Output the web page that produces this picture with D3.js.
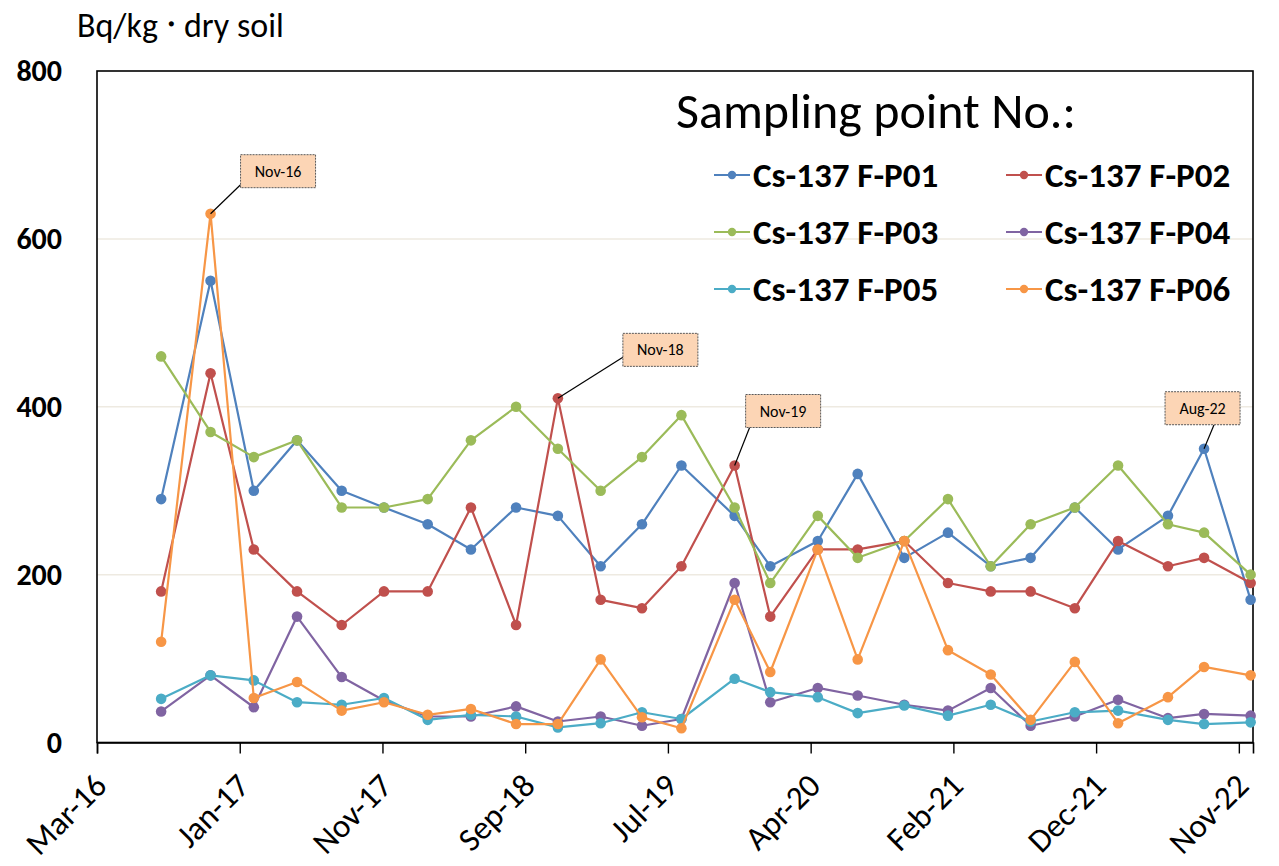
<!DOCTYPE html>
<html>
<head>
<meta charset="utf-8">
<script src="https://cdn.jsdelivr.net/npm/d3@7"></script>
<style>
  html, body { margin: 0; padding: 0; background: #ffffff; }
  svg { display: block; }
</style>
</head>
<body>
<svg id="chart" width="1279" height="866"></svg>
<script>
// ---------------- DATA ----------------
const sampleDates = ["2016-08-03","2016-11-15","2017-02-14","2017-05-16","2017-08-18","2017-11-15",
  "2018-02-15","2018-05-17","2018-08-20","2018-11-16","2019-02-14","2019-05-12","2019-08-03",
  "2019-11-23","2020-02-06","2020-05-16","2020-08-08","2020-11-14","2021-02-14","2021-05-15",
  "2021-08-07","2021-11-08","2022-02-07","2022-05-23","2022-08-07","2022-11-13"];

const seriesNames = ["Cs-137 F-P01","Cs-137 F-P02","Cs-137 F-P03","Cs-137 F-P04","Cs-137 F-P05","Cs-137 F-P06"];

const p01 = [290,550,300,360,300,280,260,230,280,270,210,260,330,270,210,240,320,220,250,210,220,280,230,270,350,170];
const p02 = [180,440,230,180,140,180,180,280,140,410,170,160,210,330,150,230,230,240,190,180,180,160,240,210,220,190];
const p03 = [460,370,340,360,280,280,290,360,400,350,300,340,390,280,190,270,220,240,290,210,260,280,330,260,250,200];
const p04 = [37,80,42,150,78,50,31,31,43,25,31,20,28,190,48,65,56,45,38,65,20,31,51,29,34,32];
const p05 = [52,80,74,48,45,53,27,33,31,18,23,36,28,76,60,54,35,44,32,45,25,36,38,27,22,24];
const p06 = [120,630,53,72,38,48,33,40,22,22,99,30,17,170,84,230,99,240,110,81,27,96,23,54,90,80];

const seriesColors = ["#4F81BD","#C0504D","#9BBB59","#8064A2","#4BACC6","#F79646"];

const xTickLabels = ["Mar-16","Jan-17","Nov-17","Sep-18","Jul-19","Apr-20","Feb-21","Dec-21","Nov-22"];
const yTickValues = [0,200,400,600,800];

const yTitleParts = ["Bq/kg", "・", "dry soil"];
const legendTitle = "Sampling point No.:";

// callouts: series index, point index, label
const calloutSeries = [5, 1, 1, 0];
const calloutPoint  = [1, 9, 13, 24];
const calloutLabels = ["Nov-16","Nov-18","Nov-19","Aug-22"];

// ---------------- LAYOUT ----------------
const svg = d3.select("#chart");
const W = 1279, H = 866;
const plot = { left: 97, right: 1253, top: 71, bottom: 742.5 };
const fontMain = "Calibri, Carlito, Lato, 'Noto Sans', sans-serif";

svg.append("rect").attr("width", W).attr("height", H).attr("fill", "#ffffff");

const parse = d3.timeParse("%Y-%m-%d");
const dates = sampleDates.map(parse);
const xStart = parse("2016-03-21"), xEnd = parse("2022-11-18");

const x = d3.scaleTime().domain([xStart, xEnd]).range([plot.left, plot.right]);
const y = d3.scaleLinear().domain([0, 800]).range([plot.bottom, plot.top]);

// gridlines
svg.append("g").selectAll("line")
  .data(yTickValues.filter(v => v > 0 && v < 800))
  .join("line")
  .attr("x1", plot.left).attr("x2", plot.right)
  .attr("y1", d => y(d)).attr("y2", d => y(d))
  .attr("stroke", "#EEEAE1").attr("stroke-width", 1.5);

// frame
svg.append("rect")
  .attr("x", plot.left).attr("y", plot.top)
  .attr("width", plot.right - plot.left).attr("height", plot.bottom - plot.top)
  .attr("fill", "none").attr("stroke", "#000").attr("stroke-width", 1.6);

// x axis
const tickStepDays = 300.4;
const xTickDates = xTickLabels.map((_, i) => d3.timeHour.offset(xStart, Math.round(i * tickStepDays * 24)));
const xAxis = d3.axisBottom(x)
  .tickValues(xTickDates)
  .tickFormat((d, i) => xTickLabels[i])
  .tickSize(11).tickPadding(6);
const gx = svg.append("g").attr("transform", `translate(0,${plot.bottom})`).call(xAxis);
gx.select(".domain").attr("stroke", "#000").attr("stroke-width", 1.6);
gx.selectAll(".tick line").attr("stroke", "#000").attr("stroke-width", 1.4);
gx.selectAll(".tick text")
  .attr("font-family", fontMain).attr("font-size", 33).attr("fill", "#000")
  .attr("text-anchor", "end")
  .attr("dy", "0.35em")
  .attr("transform", "translate(3,37) rotate(-45)")
  .attr("y", 0).attr("x", 0);

// y axis labels
const yAxis = d3.axisLeft(y).tickValues(yTickValues).tickSize(0).tickPadding(35);
const gy = svg.append("g").attr("transform", `translate(${plot.left},0)`).call(yAxis);
gy.select(".domain").remove();
gy.selectAll(".tick text")
  .attr("font-family", fontMain).attr("font-size", 30).attr("font-weight", "bold").attr("fill", "#000");

// y title
const yt = svg.append("text")
  .attr("x", 77).attr("y", 37)
  .attr("font-family", fontMain).attr("font-size", 34).attr("fill", "#000");
yt.append("tspan").text(yTitleParts[0]);
yt.append("tspan").attr("font-size", 26).attr("font-weight", "bold").attr("dy", -4).text(yTitleParts[1]);
yt.append("tspan").attr("dy", 4).text(yTitleParts[2]);

// series
const allSeries = [p01, p02, p03, p04, p05, p06];
const line = d3.line().x((d, i) => x(dates[i])).y(d => y(d));
allSeries.forEach((vals, s) => {
  const g = svg.append("g");
  g.append("path").datum(vals).attr("d", line)
    .attr("fill", "none").attr("stroke", seriesColors[s]).attr("stroke-width", 2.2)
    .attr("stroke-linejoin", "round");
  g.selectAll("circle").data(vals).join("circle")
    .attr("cx", (d, i) => x(dates[i])).attr("cy", d => y(d))
    .attr("r", 5.3).attr("fill", seriesColors[s]);
});

// legend
svg.append("text")
  .attr("x", 676).attr("y", 128)
  .attr("font-family", fontMain).attr("font-size", 50).attr("fill", "#000")
  .text(legendTitle);

const legendCols = [714, 1006];
const legendRows = [175, 232, 289];
seriesNames.forEach((name, i) => {
  const cx = legendCols[i % 2], cy = legendRows[Math.floor(i / 2)];
  const g = svg.append("g");
  g.append("line").attr("x1", cx).attr("x2", cx + 36).attr("y1", cy).attr("y2", cy)
    .attr("stroke", seriesColors[i]).attr("stroke-width", 2);
  g.append("circle").attr("cx", cx + 18).attr("cy", cy).attr("r", 4.2).attr("fill", seriesColors[i]);
  g.append("text").attr("x", cx + 39).attr("y", cy + 12)
    .attr("font-family", fontMain).attr("font-size", 35).attr("font-weight", "bold").attr("fill", "#000")
    .text(name);
});

// callouts (box offset from the point, and where the leader leaves the box)
const calloutLayout = [
  { dx: 30,  dy: -59, ax: 0,  ay: 30 },
  { dx: 65,  dy: -65, ax: 0,  ay: 24 },
  { dx: 11,  dy: -71, ax: 4,  ay: 33 },
  { dx: -39, dy: -57, ax: 49, ay: 33 }
];
const boxW = 75, boxH = 33;
calloutLabels.forEach((lab, k) => {
  const vals = allSeries[calloutSeries[k]];
  const pi = calloutPoint[k];
  const px = x(dates[pi]), py = y(vals[pi]);
  const L = calloutLayout[k];
  const bx = px + L.dx, by = py + L.dy;
  const g = svg.append("g");
  g.append("line").attr("x1", bx + L.ax).attr("y1", by + L.ay).attr("x2", px).attr("y2", py)
    .attr("stroke", "#000").attr("stroke-width", 1.2);
  g.append("rect").attr("x", bx).attr("y", by).attr("width", boxW).attr("height", boxH)
    .attr("fill", "#FCD5B5").attr("stroke", "#595959").attr("stroke-width", 1)
    .attr("stroke-dasharray", "2,1");
  g.append("text").attr("x", bx + boxW / 2).attr("y", by + boxH / 2 + 5.5)
    .attr("text-anchor", "middle")
    .attr("font-family", fontMain).attr("font-size", 16).attr("fill", "#000")
    .text(lab);
});
</script>
</body>
</html>
